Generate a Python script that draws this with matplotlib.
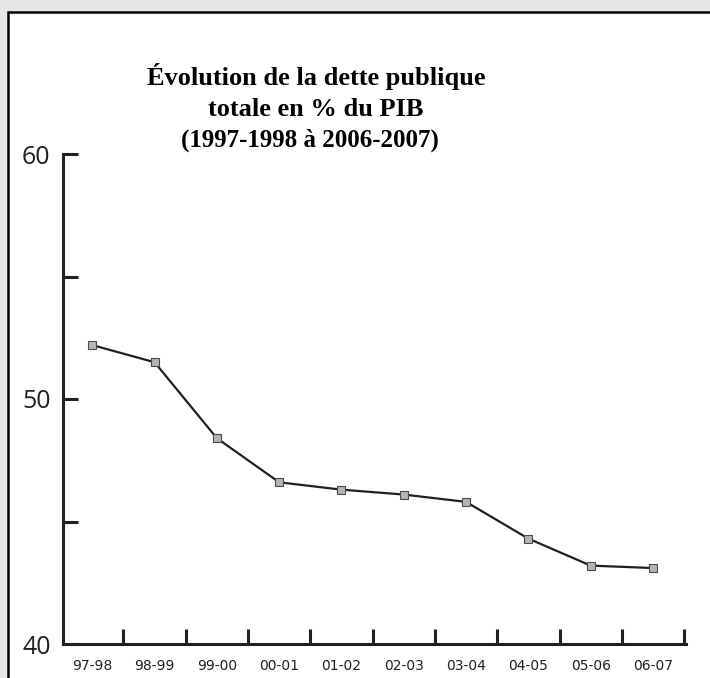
import matplotlib.pyplot as plt
from matplotlib.patches import Rectangle

# === Dette publique totale en % du PIB ===
periods = ["97-98", "98-99", "99-00", "00-01", "01-02", "02-03", "03-04", "04-05", "05-06", "06-07"]
debt = [52.2, 51.5, 48.4, 46.6, 46.3, 46.1, 45.8, 44.3, 43.2, 43.1]
y_labels = ["40", "50", "60"]

ink = '#231f20'

fig = plt.figure(figsize=(7.1, 6.78), dpi=100, facecolor='#e6e6e6')

# panneau blanc avec bordure noire (haut et gauche)
fig.patches.append(Rectangle((8 / 710, -0.1), 1.2, 1 - 12 / 678 + 0.1, transform=fig.transFigure,
                             facecolor='white', edgecolor='black', linewidth=1.8, zorder=-1))

ax = fig.add_axes([63 / 710, 1 - 644 / 678, (686 - 63) / 710, (644 - 154) / 678])
ax.set_facecolor('none')

x = list(range(len(periods)))
ax.plot(x, debt, color=ink, linewidth=1.6, marker='s', markersize=5.5,
        markerfacecolor='#b4b4b4', markeredgecolor='#4a4a4a', markeredgewidth=0.8, zorder=3)

ax.set_xlim(-0.47, 9.53)
ax.set_ylim(40, 60)

for side in ['top', 'right']:
    ax.spines[side].set_visible(False)
for side in ['left', 'bottom']:
    ax.spines[side].set_color(ink)
    ax.spines[side].set_linewidth(2.2)
    ax.spines[side].set_capstyle('projecting')

# graduations x entre les catégories, étiquettes au centre
ax.set_xticks([i + 0.5 for i in x])
ax.set_xticklabels([])
ax.set_xticks(x, minor=True)
ax.set_xticklabels(periods, minor=True, fontsize=10, family=['Liberation Sans Narrow', 'DejaVu Sans'],
                   color=ink)
ax.tick_params(axis='x', which='major', direction='in', length=11, width=2.2, color=ink)
ax.tick_params(axis='x', which='minor', length=0, pad=11)

ax.set_yticks([40, 50, 60])
ax.set_yticklabels(y_labels, fontsize=18, family=['Open Sans', 'DejaVu Sans'], color=ink)
ax.set_yticks([45, 55], minor=True)
ax.tick_params(axis='y', which='both', direction='in', length=11, width=2.2, color=ink, pad=9)

title_font = ['Liberation Serif', 'DejaVu Serif']
fig.text(316 / 710, 1 - 77 / 678, "Évolution de la dette publique", ha='center', va='center',
         fontsize=19, fontweight='bold', family=title_font, color='black')
fig.text(316 / 710, 1 - 109 / 678, "totale en % du PIB", ha='center', va='center',
         fontsize=19, fontweight='bold', family=title_font, color='black')
fig.text(310 / 710, 1 - 140 / 678, "(1997-1998 à 2006-2007)", ha='center', va='center',
         fontsize=18, fontweight='bold', family=title_font, color='black')

plt.savefig("out.png", dpi=100, facecolor=fig.get_facecolor())
